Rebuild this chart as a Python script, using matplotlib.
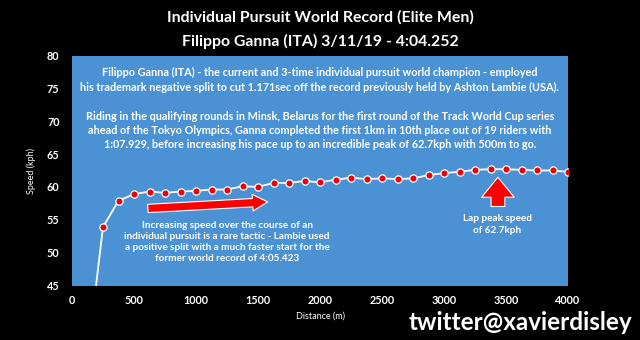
import matplotlib
matplotlib.use("Agg")
import matplotlib.pyplot as plt

distance = [125, 250, 375, 500, 625, 750, 875, 1000, 1125, 1250, 1375, 1500, 1625,
            1750, 1875, 2000, 2125, 2250, 2375, 2500, 2625, 2750, 2875, 3000,
            3125, 3250, 3375, 3500, 3625, 3750, 3875, 4000]
speed = [34.0, 53.9, 57.9, 58.9, 59.3, 59.1, 59.3, 59.4, 59.6, 59.6, 60.1, 60.0, 60.6,
         60.6, 60.9, 60.7, 61.1, 61.4, 61.2, 61.3, 61.2, 61.3, 61.8, 62.1,
         62.3, 62.6, 62.7, 62.7, 62.6, 62.5, 62.5, 62.3]
xticks = [0, 500, 1000, 1500, 2000, 2500, 3000, 3500, 4000]
yticks = [45, 50, 55, 60, 65, 70, 75, 80]

FONT = "Lato"
fig = plt.figure(figsize=(6.4, 3.4), dpi=100, facecolor="black")
ax = fig.add_axes([72/640, 1-285.5/340, (568-72)/640, (285.5-55.5)/340])
ax.set_facecolor("#4b92d4")
ax.plot(distance, speed, color="white", lw=1.3, zorder=3, clip_on=True)
ax.plot(distance[1:], speed[1:], ls="none", marker="o", ms=5.2, mfc="#e8000b",
        mec="white", mew=0.9, zorder=4)
ax.set_xlim(0, 4000)
ax.set_ylim(45, 80)
ax.set_xticks(xticks)
ax.set_yticks(yticks)
ax.tick_params(axis="x", length=0, colors="white", labelsize=7.8, pad=7)
ax.tick_params(axis="y", length=0, colors="white", labelsize=7.8, pad=9)
for lab in ax.get_xticklabels() + ax.get_yticklabels():
    lab.set_fontfamily(FONT)
    lab.set_fontweight("bold")
for s in ax.spines.values():
    s.set_visible(False)
ax.set_ylabel("Speed (kph)", color="white", fontsize=6.5, family=FONT, labelpad=8)
ax.set_xlabel("Distance (m)", color="white", fontsize=6.5, family=FONT, labelpad=4)

fig.text(0.5, 1-17/340, "Individual Pursuit World Record (Elite Men)", ha="center",
         va="center", color="white", fontsize=11.4, fontweight="bold", family=FONT)
fig.text(0.5, 1-41/340, "Filippo Ganna (ITA) 3/11/19 - 4:04.252", ha="center",
         va="center", color="white", fontsize=11.4, fontweight="bold", family=FONT)

tkw = dict(color="white", fontweight="bold", family=FONT, fontsize=7.8, ha="center",
           va="center", transform=ax.transAxes, linespacing=1.35)
para1 = ("Filippo Ganna (ITA) - the current and 3-time individual pursuit world champion - employed\n"
         "his trademark negative split to cut 1.171sec off the record previously held by Ashton Lambie (USA).")
para2 = ("Riding in the qualifying rounds in Minsk, Belarus for the first round of the Track World Cup series\n"
         "ahead of the Tokyo Olympics, Ganna completed the first 1km in 10th place out of 19 riders with\n"
         "1:07.929, before increasing his pace up to an incredible peak of 62.7kph with 500m to go.")
ax.text(0.5, (285.5-80)/230, para1, **tkw)
ax.text(0.5, (285.5-130.5)/230, para2, **tkw)

ax.text(1250, 51.6, "Increasing speed over the course of an\nindividual pursuit is a rare tactic - Lambie used\n"
        "a positive split with a much faster start for the\nformer world record of 4:05.423",
        color="white", fontweight="bold", family=FONT, fontsize=7.2, ha="center", va="center",
        linespacing=1.3)
ax.text(3430, 54.3, "Lap peak speed\nof 62.7kph", color="white", fontweight="bold", family=FONT,
        fontsize=7.2, ha="center", va="center", linespacing=1.35)

ax.annotate("", xy=(1600, 57.75), xytext=(590, 56.7),
            arrowprops=dict(arrowstyle="simple,head_length=0.9,head_width=1.0,tail_width=0.5",
                            fc="#ff0000", ec="white", lw=0.8, mutation_scale=12), zorder=5)
ax.annotate("", xy=(3435, 61.9), xytext=(3435, 56.6),
            arrowprops=dict(arrowstyle="simple,head_length=0.8,head_width=1.3,tail_width=0.55",
                            fc="#ff0000", ec="white", lw=0.8, mutation_scale=18), zorder=5)

fig.text(632/640, 1-323/340, "twitter@xavierdisley", ha="right", va="center", color="white",
         fontsize=17.5, fontweight="bold", family=FONT)

fig.savefig("out.png", dpi=100, facecolor="black")
